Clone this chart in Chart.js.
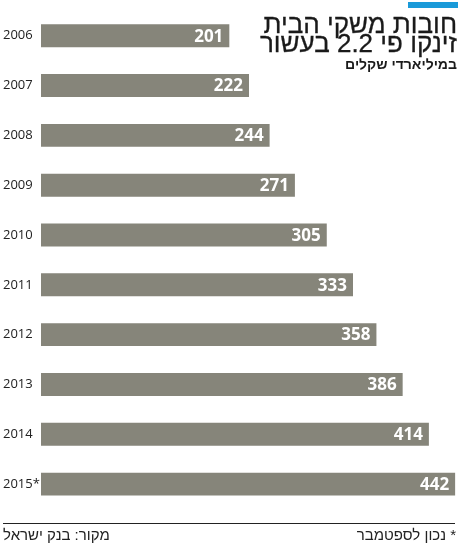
<!DOCTYPE html>
<html>
<head>
<meta charset="utf-8">
<script src="https://cdn.jsdelivr.net/npm/chart.js@4"></script>
<style>
  html, body { margin: 0; padding: 0; background: #fff; }
  #wrap { position: relative; width: 458px; height: 546px; overflow: hidden; }
  #chart { position: absolute; left: 0; top: 0; }
  .head { position: absolute; right: 1px; direction: rtl; text-align: right; white-space: nowrap; font-family: "Liberation Sans", "DejaVu Sans", sans-serif; color: #1a1a1a; }
  #stripe { position: absolute; right: 0; top: 2px; width: 50px; height: 6px; background: #1a9ad9; }
  .title { font-size: 26px; line-height: 26px; -webkit-text-stroke: 0.3px #1a1a1a; }
  #t1 { top: 11px; }
  #t2 { top: 30px; }
  #sub { top: 56px; font-size: 14px; font-weight: bold; }
  #rule { position: absolute; left: 3px; right: 3px; top: 523px; height: 1px; background: #222; }
  .foot { position: absolute; top: 526px; white-space: nowrap; font-family: "Liberation Sans", "DejaVu Sans", sans-serif; font-size: 15px; color: #222; direction: rtl; }
</style>
</head>
<body>
<div id="wrap">
  <canvas id="chart" width="458" height="546"></canvas>
  <div id="stripe"></div>
  <div class="head title" id="t1">חובות משקי הבית</div>
  <div class="head title" id="t2">זינקו פי 2.2 בעשור</div>
  <div class="head" id="sub">במיליארדי שקלים</div>
  <div id="rule"></div>
  <div class="foot" style="left:3px;">מקור: בנק ישראל</div>
  <div class="foot" style="right:2px;">* נכון לספטמבר</div>
</div>
<script>
// data
const years = ['2006', '2007', '2008', '2009', '2010', '2011', '2012', '2013', '2014', '2015*'];
const debt = [201, 222, 244, 271, 305, 333, 358, 386, 414, 442];

// white value labels inside the bar end
const valueLabels = {
    id: 'valueLabels',
    afterDatasetsDraw(chart) {
        const ctx = chart.ctx;
        const meta = chart.getDatasetMeta(0);
        ctx.save();
        ctx.fillStyle = '#ffffff';
        ctx.font = 'bold 17px "Open Sans", "DejaVu Sans", sans-serif';
        ctx.textAlign = 'right';
        ctx.textBaseline = 'middle';
        meta.data.forEach((bar, i) => {
            ctx.fillText(debt[i], bar.x - 6, bar.y + 1);
        });
        ctx.restore();
    }
};

const ctx = document.getElementById('chart').getContext('2d');
new Chart(ctx, {
    type: 'bar',
    data: {
        labels: years,
        datasets: [{
            data: debt,
            backgroundColor: '#86857a',
            borderWidth: 0,
            categoryPercentage: 1,
            barPercentage: 0.46
        }]
    },
    options: {
        indexAxis: 'y',
        responsive: false,
        animation: false,
        layout: { padding: { left: 3, right: 1, top: 5, bottom: 37 } },
        plugins: {
            legend: { display: false },
            tooltip: { enabled: false }
        },
        scales: {
            x: {
                display: false,
                min: 0,
                max: 444
            },
            y: {
                grid: { display: false },
                border: { display: false },
                afterFit(scale) { scale.width = 38; },
                ticks: {
                    crossAlign: 'far',
                    color: '#222222',
                    font: { family: '"Open Sans", "DejaVu Sans", sans-serif', size: 13 }
                }
            }
        }
    },
    plugins: [valueLabels]
});
</script>
</body>
</html>
